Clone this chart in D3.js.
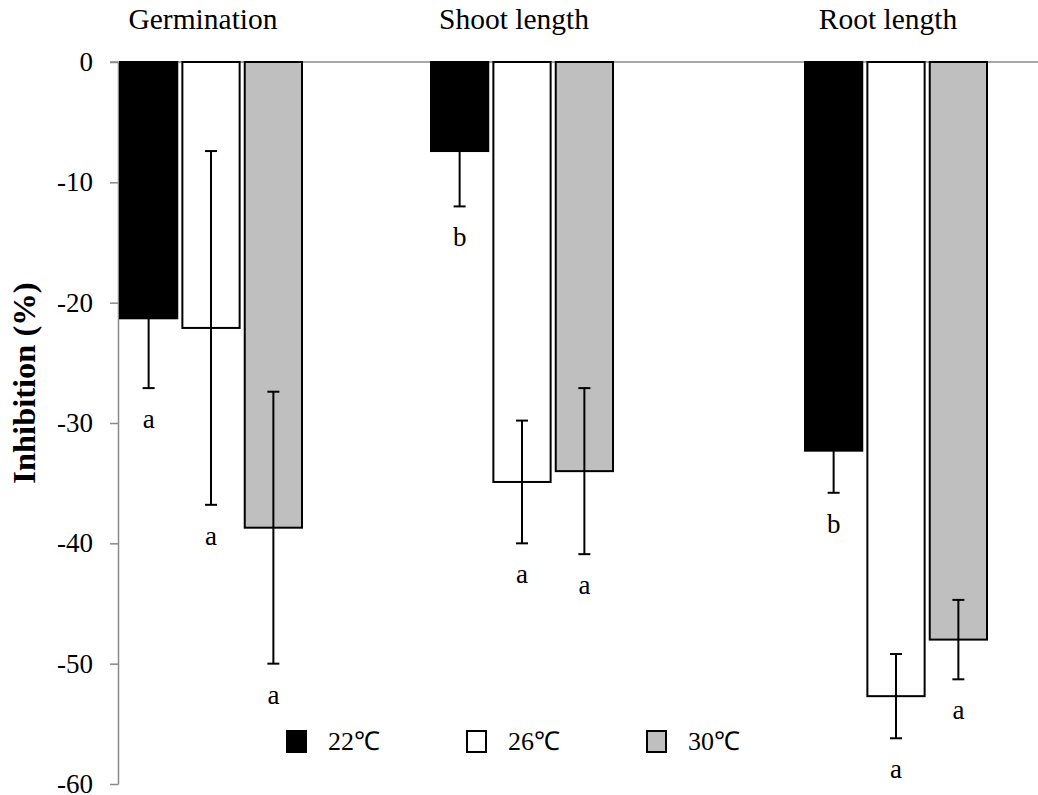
<!DOCTYPE html>
<html>
<head>
<meta charset="utf-8">
<script src="https://cdn.jsdelivr.net/npm/d3@7"></script>
<style>
  html, body { margin: 0; padding: 0; background: #fff; }
  svg { display: block; }
  text { font-family: "Liberation Serif", "Times New Roman", serif; fill: #000; }
</style>
</head>
<body>
<div id="chart"></div>
<script>
// Data
const groups = ["Germination", "Shoot length", "Root length"]
const series = ["22℃", "26℃", "30℃"]
const means = {
  "22℃": [-21.3, -7.4, -32.3],
  "26℃": [-22.1, -34.9, -52.7],
  "30℃": [-38.7, -34.0, -48.0]
}
const errors = {
  "22℃": [5.8, 4.6, 3.5],
  "26℃": [14.7, 5.1, 3.5],
  "30℃": [11.3, 6.9, 3.3]
}
const letters = {
  "22℃": ["a", "b", "b"],
  "26℃": ["a", "a", "a"],
  "30℃": ["a", "a", "a"]
}
const yTicks = [0, -10, -20, -30, -40, -50, -60]
const fills = { "22℃": "#000", "26℃": "#fff", "30℃": "#bfbfbf" }

const width = 1038
const height = 795
const axisColor = "#8a8a8a"

const svg = d3.select("#chart")
  .append("svg")
  .attr("width", width)
  .attr("height", height)

// Scales
const y = d3.scaleLinear().domain([-60, 0]).range([784, 62])

// groups in the figure are not evenly spaced
const groupX = d3.scaleOrdinal().domain(groups).range([119, 430, 804])
const inner = d3.scaleBand().domain(series).range([0, 184]).paddingInner(0.05)

// Flatten for drawing
const rows = []
series.forEach(s => {
  groups.forEach((g, i) => {
    rows.push({ group: g, series: s, value: means[s][i], err: errors[s][i], letter: letters[s][i] })
  })
})
const barX = d => groupX(d.group) + inner(d.series) + 1
const barW = inner.bandwidth() - 2

// Y axis
const yAxis = svg.append("g")
  .attr("transform", `translate(118,0)`)
  .call(d3.axisLeft(y).tickValues(yTicks).tickSize(8).tickSizeOuter(0).tickPadding(17))
yAxis.select(".domain").attr("stroke", axisColor).attr("stroke-width", 1.5)
yAxis.selectAll(".tick line").attr("stroke", axisColor).attr("stroke-width", 1.5)
yAxis.selectAll(".tick text")
  .attr("font-size", "27px")
  .attr("fill", "#000")
  .text(d => d)

// Zero line
svg.append("line")
  .attr("x1", 110).attr("x2", width)
  .attr("y1", y(0)).attr("y2", y(0))
  .attr("stroke", axisColor)
  .attr("stroke-width", 1.5)

// Bars
svg.append("g")
  .selectAll("rect")
  .data(rows)
  .join("rect")
  .attr("x", barX)
  .attr("y", y(0))
  .attr("width", barW)
  .attr("height", d => y(d.value) - y(0))
  .attr("fill", d => fills[d.series])
  .attr("stroke", "#000")
  .attr("stroke-width", 2)

// Error bars
const eb = svg.append("g")
  .selectAll("g")
  .data(rows)
  .join("g")
  .attr("stroke", "#000")
  .attr("stroke-width", 2)
const cx = d => barX(d) + barW / 2
eb.append("line")
  .attr("x1", cx).attr("x2", cx)
  .attr("y1", d => y(d.value + d.err))
  .attr("y2", d => y(d.value - d.err))
eb.append("line")
  .attr("x1", d => cx(d) - 6).attr("x2", d => cx(d) + 6)
  .attr("y1", d => y(d.value + d.err)).attr("y2", d => y(d.value + d.err))
eb.append("line")
  .attr("x1", d => cx(d) - 6).attr("x2", d => cx(d) + 6)
  .attr("y1", d => y(d.value - d.err)).attr("y2", d => y(d.value - d.err))

// Significance letters
svg.append("g")
  .selectAll("text")
  .data(rows)
  .join("text")
  .attr("x", cx)
  .attr("y", d => y(d.value - d.err) + 40)
  .attr("text-anchor", "middle")
  .attr("font-size", "27px")
  .text(d => d.letter)

// Group titles
svg.append("g")
  .selectAll("text")
  .data(groups)
  .join("text")
  .attr("x", g => groupX(g) + 92 - 8)
  .attr("y", 29)
  .attr("text-anchor", "middle")
  .attr("font-size", "29.5px")
  .text(g => g)

// Y title
svg.append("text")
  .attr("transform", `translate(35,383) rotate(-90)`)
  .attr("text-anchor", "middle")
  .attr("font-size", "32.5px")
  .attr("font-weight", "bold")
  .text("Inhibition (%)")

// Legend
const legendX = d3.scaleBand().domain(series).range([287, 827])
const legend = svg.append("g")
  .selectAll("g")
  .data(series)
  .join("g")
  .attr("transform", s => `translate(${legendX(s)},731)`)
legend.append("rect")
  .attr("width", 19)
  .attr("height", 21)
  .attr("fill", s => fills[s])
  .attr("stroke", "#000")
  .attr("stroke-width", 2)
legend.append("text")
  .attr("x", 41)
  .attr("y", 19)
  .attr("font-size", "26px")
  .text(s => s)
</script>
</body>
</html>
